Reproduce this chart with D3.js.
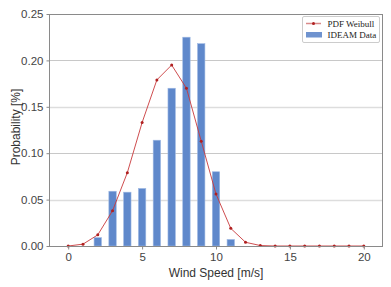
<!DOCTYPE html>
<html><head><meta charset="utf-8">
<script src="https://cdn.jsdelivr.net/npm/d3@7"></script>
<style>body{margin:0;background:#fff;} svg{display:block;}</style>
</head><body>
<svg id="c" width="391" height="287"></svg>
<script>
const windSpeeds = [0,1,2,3,4,5,6,7,8,9,10,11,12,13,14,15,16,17,18,19,20];
const ideamData = [0,0,0.009,0.059,0.058,0.062,0.114,0.170,0.225,0.218,0.080,0.007,0,0,0,0,0,0,0,0,0];
const weibullPdf = [0,0.002,0.012,0.038,0.079,0.133,0.179,0.195,0.170,0.113,0.056,0.019,0.004,0.0005,0,0,0,0,0,0,0];
const xTicks = [0,5,10,15,20];
const yTicks = [0,0.05,0.10,0.15,0.20,0.25];
const legendLabels = ["PDF Weibull","IDEAM Data"];

const svg = d3.select("#c");
const L=49, R=383, T=14, B=246;
const x = d3.scaleLinear().domain([-1.3,21.3]).range([L,R]);
const y = d3.scaleLinear().domain([0,0.25]).range([B,T]);
const sans = "Liberation Sans, Arial, sans-serif";

// grid
svg.append("g").selectAll("line").data(yTicks.slice(1,-1)).join("line")
  .attr("x1",L).attr("x2",R).attr("y1",d=>Math.round(y(d))+0.5).attr("y2",d=>Math.round(y(d))+0.5)
  .attr("stroke",(d,i)=>i%2===0?"#dddddd":"#c8c8c8").attr("stroke-width",(d,i)=>i%2===0?1.6:1);

// bars
const bw = x(0.5)-x(0);
svg.append("g").selectAll("rect").data(windSpeeds.map((w,i)=>({w,v:ideamData[i]})).filter(d=>d.v>0)).join("rect")
  .attr("x",d=>x(d.w)-bw/2).attr("width",bw)
  .attr("y",d=>y(d.v)).attr("height",d=>B-y(d.v))
  .attr("fill","#5f88cb").attr("stroke","#9db8e3").attr("stroke-width",0.6);

// weibull line
const line = d3.line().x((d,i)=>x(windSpeeds[i])).y(d=>y(d));
svg.append("path").datum(weibullPdf).attr("d",line)
  .attr("fill","none").attr("stroke","#c8393b").attr("stroke-width",0.9);
svg.append("g").selectAll("circle").data(weibullPdf).join("circle")
  .attr("cx",(d,i)=>x(windSpeeds[i])).attr("cy",d=>y(d)).attr("r",1.5)
  .attr("fill","#b02020");

// frame
svg.append("rect").attr("x",L+0.5).attr("y",T+0.5).attr("width",R-L-1).attr("height",B-T)
  .attr("fill","none").attr("stroke","#8a8a8a").attr("stroke-width",1);

// axes
const xAxis = svg.append("g").attr("transform",`translate(0,${B+0.5})`)
  .call(d3.axisBottom(x).tickValues(xTicks).tickSize(3).tickPadding(3).tickFormat(d3.format("d")));
const yAxis = svg.append("g").attr("transform",`translate(${L+0.5},0)`)
  .call(d3.axisLeft(y).tickValues(yTicks).tickSize(3).tickPadding(3).tickFormat(d3.format(".2f")));
[xAxis,yAxis].forEach(a=>{
  a.select(".domain").remove();
  a.selectAll(".tick line").attr("stroke","#8a8a8a");
  a.selectAll(".tick text").attr("fill","#444").attr("font-size","11.5px").attr("font-family",sans);
});

// axis labels
svg.append("text").attr("x",216).attr("y",277).attr("text-anchor","middle")
  .attr("font-family",sans).attr("font-size","12px").attr("fill","#333").text("Wind Speed [m/s]");
svg.append("text").attr("transform","translate(19.5,127) rotate(-90)").attr("text-anchor","middle")
  .attr("font-family",sans).attr("font-size","12px").attr("fill","#333").text("Probability [%]");

// legend
const lg = svg.append("g");
lg.append("rect").attr("x",302.5).attr("y",16.5).attr("width",77).attr("height",26)
  .attr("fill","#fff").attr("stroke","#cccccc").attr("stroke-width",1).attr("rx",1.5);
lg.append("line").attr("x1",306).attr("x2",321).attr("y1",23.5).attr("y2",23.5)
  .attr("stroke","#d98a8a").attr("stroke-width",1.5);
lg.append("circle").attr("cx",313.5).attr("cy",23.5).attr("r",1.5).attr("fill","#b02020");
lg.append("rect").attr("x",306).attr("y",32).attr("width",16).attr("height",5.5).attr("fill","#6f93cf");
lg.selectAll("text.l").data(legendLabels).join("text").attr("class","l")
  .attr("x",327.5).attr("y",(d,i)=>26.5+i*11.5)
  .attr("font-family","Liberation Serif, DejaVu Serif, serif").attr("font-size","9px").attr("fill","#222")
  .text(d=>d);
</script>
</body></html>
